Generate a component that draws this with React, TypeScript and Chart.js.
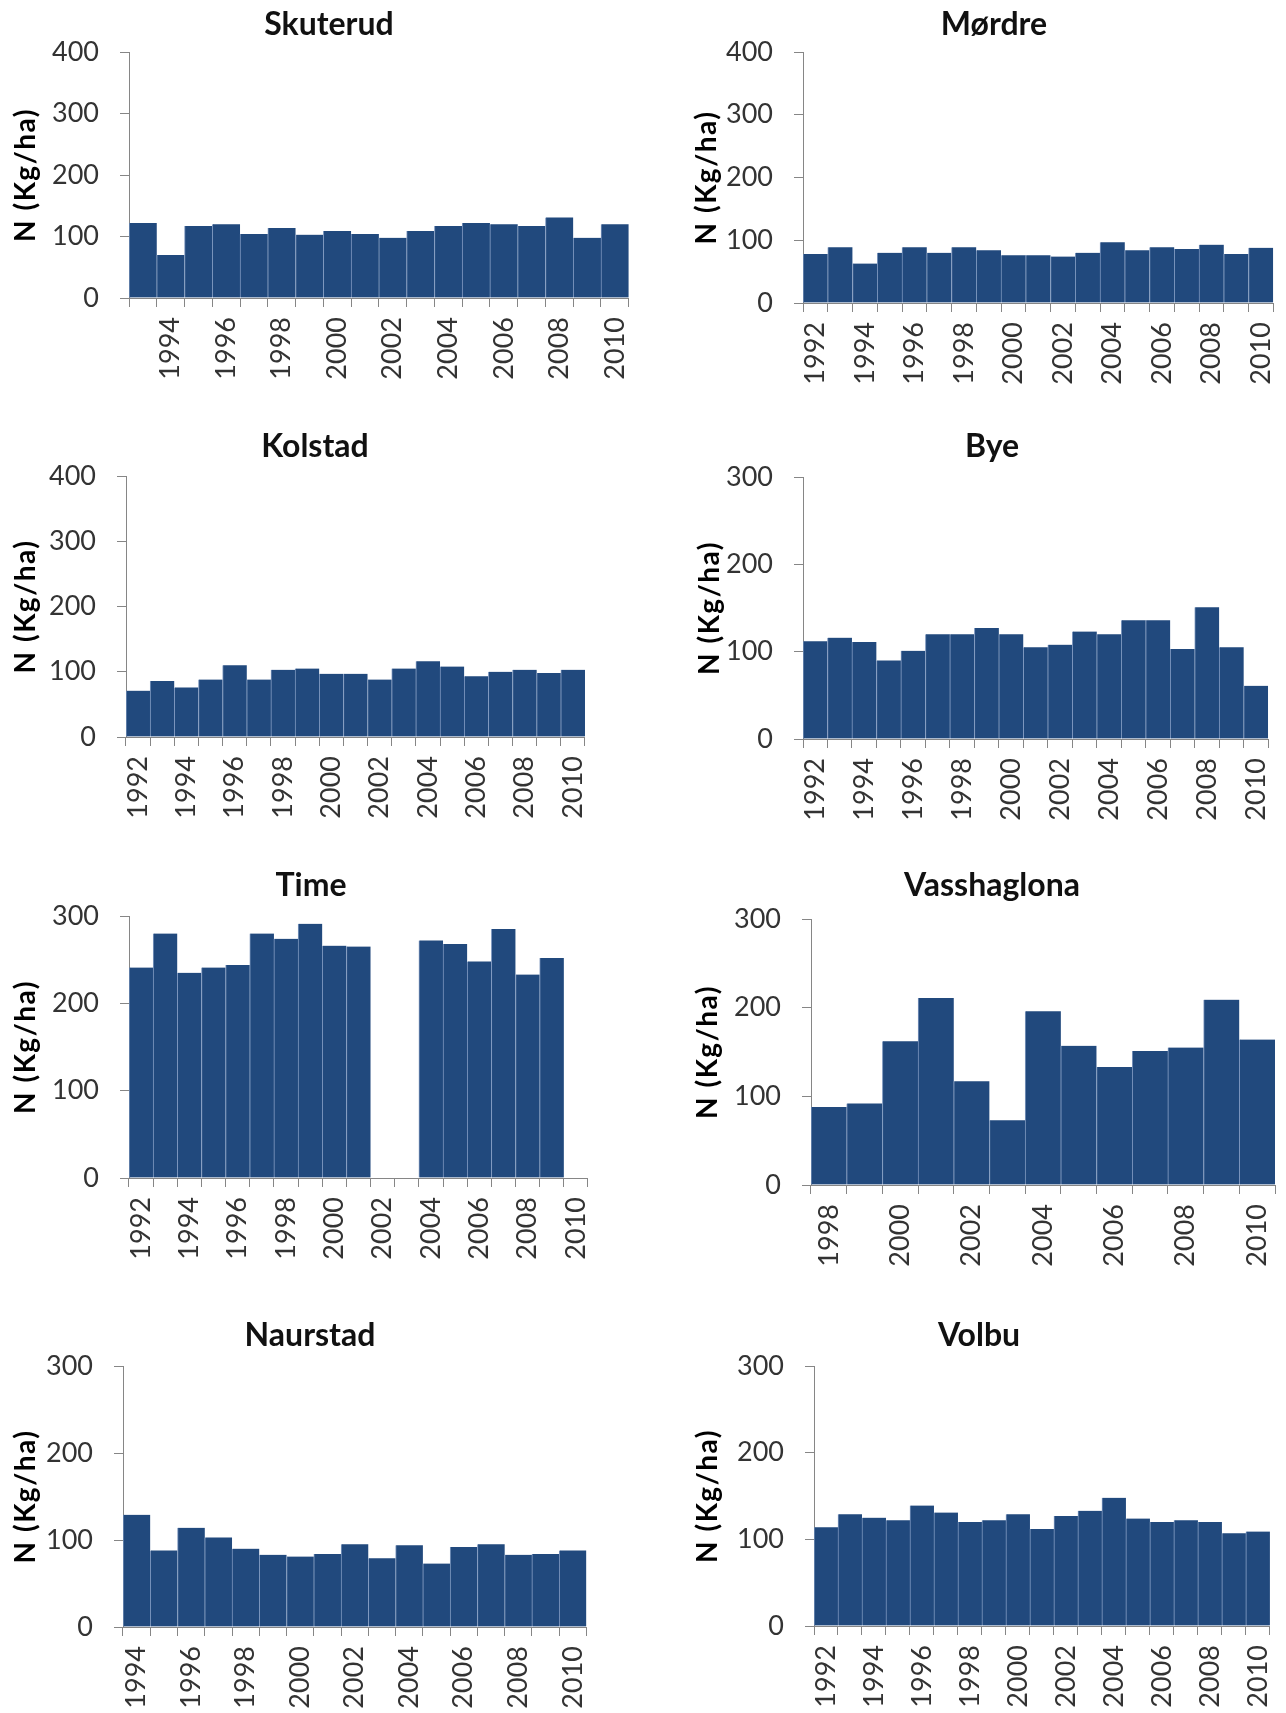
import React, { useEffect, useRef } from 'react';
import { Chart, registerables } from 'chart.js';

Chart.register(...registerables);

// ---------- data ----------
const skuterudYears = [1993, 1994, 1995, 1996, 1997, 1998, 1999, 2000, 2001, 2002, 2003, 2004, 2005, 2006, 2007, 2008, 2009, 2010];
const skuterudValues = [122, 70, 117, 120, 104, 114, 103, 109, 104, 98, 109, 117, 122, 120, 117, 131, 98, 120];

const mordreYears = [1992, 1993, 1994, 1995, 1996, 1997, 1998, 1999, 2000, 2001, 2002, 2003, 2004, 2005, 2006, 2007, 2008, 2009, 2010];
const mordreValues = [78, 89, 63, 80, 89, 80, 89, 84, 76, 76, 74, 80, 97, 84, 89, 86, 93, 78, 88];

const kolstadYears = [1992, 1993, 1994, 1995, 1996, 1997, 1998, 1999, 2000, 2001, 2002, 2003, 2004, 2005, 2006, 2007, 2008, 2009, 2010];
const kolstadValues = [71, 86, 76, 88, 110, 88, 103, 105, 97, 97, 88, 105, 116, 108, 93, 100, 103, 98, 103];

const byeYears = [1992, 1993, 1994, 1995, 1996, 1997, 1998, 1999, 2000, 2001, 2002, 2003, 2004, 2005, 2006, 2007, 2008, 2009, 2010];
const byeValues = [112, 116, 111, 90, 101, 120, 120, 127, 120, 105, 108, 123, 120, 136, 136, 103, 151, 105, 61];

const timeYears = [1992, 1993, 1994, 1995, 1996, 1997, 1998, 1999, 2000, 2001, 2002, 2003, 2004, 2005, 2006, 2007, 2008, 2009, 2010];
const timeValues = [241, 280, 235, 241, 244, 280, 274, 291, 266, 265, null, null, 272, 268, 248, 285, 233, 252, null];

const vasshaglonaYears = [1998, 1999, 2000, 2001, 2002, 2003, 2004, 2005, 2006, 2007, 2008, 2009, 2010];
const vasshaglonaValues = [88, 92, 162, 211, 117, 73, 196, 157, 133, 151, 155, 209, 164];

const naurstadYears = [1994, 1995, 1996, 1997, 1998, 1999, 2000, 2001, 2002, 2003, 2004, 2005, 2006, 2007, 2008, 2009, 2010];
const naurstadValues = [129, 88, 114, 103, 90, 83, 81, 84, 95, 79, 94, 73, 92, 95, 83, 84, 88];

const volbuYears = [1992, 1993, 1994, 1995, 1996, 1997, 1998, 1999, 2000, 2001, 2002, 2003, 2004, 2005, 2006, 2007, 2008, 2009, 2010];
const volbuValues = [114, 129, 125, 122, 139, 131, 120, 122, 129, 112, 127, 133, 148, 124, 120, 122, 120, 107, 109];

const Y_TITLE = 'N (Kg/ha)';
const Y_STEP = 100;

// ---------- styles ----------
const FONT = 'Lato, "Open Sans", sans-serif';
const BAR = '#21497D';
const SEP = '#7C96BE';
const AXIS = '#868686';
const TICK_COLOR = '#333333';
const TICK_SIZE = 27;
const TITLE_SIZE = 32;
const TITLE_LH = 1.2;
const TICK_LEN = 9;

// ---------- layout (page pixel geometry of each panel) ----------
type PanelDef = {
  title: string;
  years: number[];
  values: (number | null)[];
  yMax: number;
  titleX: number;
  titleY: number;
  left: number;
  right: number;
  top: number;
  bottom: number;
  yLabelX: number;
};

const PANELS: PanelDef[] = [
  { title: 'Skuterud', years: skuterudYears, values: skuterudValues, yMax: 400, titleX: 329, titleY: 24, left: 129, right: 632, top: 52, bottom: 298, yLabelX: 26 },
  { title: 'Mørdre', years: mordreYears, values: mordreValues, yMax: 400, titleX: 994, titleY: 24, left: 803, right: 1278, top: 52, bottom: 303, yLabelX: 707 },
  { title: 'Kolstad', years: kolstadYears, values: kolstadValues, yMax: 400, titleX: 315, titleY: 446, left: 126, right: 590, top: 476, bottom: 737, yLabelX: 26 },
  { title: 'Bye', years: byeYears, values: byeValues, yMax: 300, titleX: 992, titleY: 446, left: 803, right: 1273, top: 477, bottom: 739, yLabelX: 710 },
  { title: 'Time', years: timeYears, values: timeValues, yMax: 300, titleX: 311, titleY: 885, left: 129, right: 593, top: 916, bottom: 1178, yLabelX: 26 },
  { title: 'Vasshaglona', years: vasshaglonaYears, values: vasshaglonaValues, yMax: 300, titleX: 992, titleY: 885, left: 811, right: 1275, top: 919, bottom: 1185, yLabelX: 708 },
  { title: 'Naurstad', years: naurstadYears, values: naurstadValues, yMax: 300, titleX: 310, titleY: 1335, left: 123, right: 590, top: 1366, bottom: 1627, yLabelX: 26 },
  { title: 'Volbu', years: volbuYears, values: volbuValues, yMax: 300, titleX: 979, titleY: 1335, left: 814, right: 1275, top: 1366, bottom: 1626, yLabelX: 708 },
];

const yTitlePlugin = {
  id: 'yTitle',
  afterDraw(chart: any, _args: any, opts: any) {
    const { ctx, chartArea } = chart;
    ctx.save();
    ctx.font = `bold ${opts.size}px ${FONT}`;
    try {
      (ctx as any).letterSpacing = opts.spacing;
    } catch (e) {
      /* ignore */
    }
    ctx.fillStyle = '#000000';
    ctx.textAlign = 'center';
    ctx.textBaseline = 'middle';
    ctx.translate(opts.x, (chartArea.top + chartArea.bottom) / 2);
    ctx.rotate(-Math.PI / 2);
    ctx.fillText(opts.text, 0, 0);
    ctx.restore();
  },
};

function Panel({ p }: { p: PanelDef }) {
  const ref = useRef<HTMLCanvasElement | null>(null);
  const lh = TITLE_SIZE * TITLE_LH;
  const y0 = Math.round(p.titleY - lh / 2);
  const titlePadBottom = p.top - y0 - lh;
  const padR = 26;
  const boxLeft = 2 * p.titleX - p.right;
  const x0 = Math.min(boxLeft, p.yLabelX - 20);
  const padL = boxLeft - x0;
  const yWidth = p.left - boxLeft;
  const xHeight = 100;
  const W = p.right + padR - x0;
  const H = p.bottom + xHeight - y0;

  useEffect(() => {
    if (!ref.current) return;
    const chart = new Chart(ref.current, {
      type: 'bar',
      data: {
        labels: p.years.map(String),
        datasets: [
          {
            data: p.values as any,
            backgroundColor: BAR,
            borderColor: SEP,
            borderWidth: { left: 1, right: 0, top: 0, bottom: 0 } as any,
            barPercentage: 1,
            categoryPercentage: 1,
          },
        ],
      },
      options: {
        responsive: false,
        animation: false,
        devicePixelRatio: 1,
        layout: { padding: { left: padL, right: padR, top: 0, bottom: 0 } },
        plugins: {
          legend: { display: false },
          tooltip: { enabled: false },
          title: {
            display: true,
            text: p.title,
            color: '#111111',
            font: { family: FONT, size: TITLE_SIZE, weight: 'bold', lineHeight: TITLE_LH },
            padding: { top: 0, bottom: titlePadBottom },
          },
          yTitle: { x: p.yLabelX - x0, text: Y_TITLE, size: 28, spacing: '1.5px' },
        } as any,
        scales: {
          x: {
            offset: true,
            grid: { offset: true, drawOnChartArea: false, drawTicks: true, tickLength: TICK_LEN, color: AXIS, lineWidth: 1 },
            border: { display: true, color: AXIS, width: 1 },
            ticks: {
              autoSkip: false,
              minRotation: 90,
              maxRotation: 90,
              padding: 10,
              color: TICK_COLOR,
              font: { family: FONT, size: TICK_SIZE },
              callback: (_v: any, i: number) => (p.years[i] % 2 === 0 ? String(p.years[i]) : ''),
            },
            afterFit: (s: any) => {
              s.height = xHeight;
            },
          },
          y: {
            min: 0,
            max: p.yMax,
            grid: { drawOnChartArea: false, drawTicks: true, tickLength: TICK_LEN, color: AXIS, lineWidth: 1 },
            border: { display: true, color: AXIS, width: 1 },
            ticks: {
              stepSize: Y_STEP,
              padding: 21,
              color: TICK_COLOR,
              font: { family: FONT, size: TICK_SIZE },
            },
            afterFit: (s: any) => {
              s.width = yWidth;
            },
          },
        },
      } as any,
      plugins: [yTitlePlugin as any],
    });
    return () => chart.destroy();
  }, []);

  return (
    <canvas
      ref={ref}
      width={W}
      height={H}
      style={{ position: 'absolute', left: x0, top: y0, width: W, height: H, display: 'block' }}
    />
  );
}

export default function App() {
  return (
    <div
      style={{
        position: 'absolute',
        left: 0,
        top: 0,
        width: 1286,
        height: 1713,
        overflow: 'hidden',
        background: '#ffffff',
      }}
    >
      {PANELS.map((p) => (
        <Panel key={p.title} p={p} />
      ))}
    </div>
  );
}
